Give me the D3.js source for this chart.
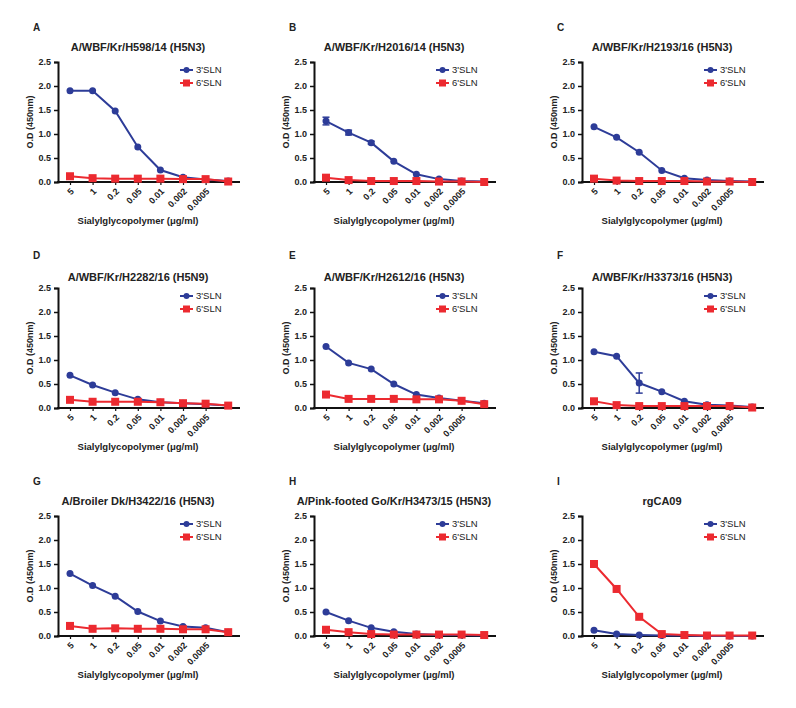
<!DOCTYPE html>
<html><head><meta charset="utf-8">
<script src="https://cdn.jsdelivr.net/npm/d3@7"></script>
<style>
body{margin:0;background:#fff;}
text{font-family:"Liberation Sans",Arial,sans-serif;fill:#222;}
</style></head>
<body><svg id="c" width="796" height="708"></svg>
<script>
const xLabels = ["5","1","0.2","0.05","0.01","0.002","0.0005",""];
const yTicks = [0,0.5,1.0,1.5,2.0,2.5];
const seriesNames = ["3'SLN","6'SLN"];
const letters = ["A","B","C","D","E","F","G","H","I"];
const titles = [
 "A/WBF/Kr/H598/14 (H5N3)","A/WBF/Kr/H2016/14 (H5N3)","A/WBF/Kr/H2193/16 (H5N3)",
 "A/WBF/Kr/H2282/16 (H5N9)","A/WBF/Kr/H2612/16 (H5N3)","A/WBF/Kr/H3373/16 (H5N3)",
 "A/Broiler Dk/H3422/16 (H5N3)","A/Pink-footed Go/Kr/H3473/15 (H5N3)","rgCA09"];
const sln3 = [
 [1.90,1.90,1.48,0.73,0.25,0.10,0.05,0.02],
 [1.27,1.03,0.82,0.43,0.16,0.06,0.02,0.01],
 [1.15,0.93,0.62,0.24,0.08,0.04,0.02,0.01],
 [0.68,0.48,0.32,0.18,0.12,0.10,0.08,0.05],
 [1.28,0.94,0.81,0.50,0.28,0.21,0.15,0.10],
 [1.17,1.08,0.52,0.34,0.14,0.07,0.05,0.02],
 [1.30,1.05,0.83,0.51,0.31,0.20,0.17,0.08],
 [0.50,0.32,0.17,0.09,0.04,0.02,0.02,0.01],
 [0.12,0.04,0.02,0.01,0.01,0.00,0.00,0.00]];
const sln6 = [
 [0.12,0.08,0.07,0.07,0.07,0.06,0.06,0.01],
 [0.09,0.04,0.02,0.02,0.02,0.01,0.01,0.00],
 [0.07,0.03,0.02,0.02,0.02,0.01,0.01,0.00],
 [0.17,0.13,0.13,0.13,0.12,0.10,0.09,0.05],
 [0.28,0.19,0.19,0.19,0.18,0.18,0.15,0.08],
 [0.14,0.06,0.04,0.04,0.04,0.04,0.04,0.01],
 [0.21,0.15,0.16,0.15,0.15,0.14,0.14,0.08],
 [0.13,0.08,0.04,0.03,0.03,0.03,0.03,0.02],
 [1.50,0.98,0.40,0.04,0.02,0.01,0.01,0.01]];
const err3 = [
 [0,0,0,0,0,0,0,0],
 [0.08,0.05,0.03,0,0,0,0,0],
 [0,0,0,0,0,0,0,0],
 [0,0,0,0,0,0,0,0],
 [0,0,0,0,0,0,0,0],
 [0,0,0.21,0,0,0,0,0],
 [0,0,0,0,0,0,0,0],
 [0,0,0,0,0,0,0,0],
 [0,0,0,0,0,0,0,0]];

const colX = [58,314,582];
const rowY = [62,288,516];
const titleOff = [15,11,15];
const W = 182, H = 120;
const blue = "#2d3c98", red = "#ec2a30";
const svg = d3.select("#c");
const x = d3.scalePoint().domain(d3.range(xLabels.length)).range([12, 12+7*22.6]);
const y = d3.scaleLinear().domain([0,2.5]).range([H,0]);

for (let p=0;p<9;p++){
  const r = Math.floor(p/3), c = p%3;
  const g = svg.append("g").attr("transform",`translate(${colX[c]},${rowY[r]})`);
  // letter and title
  g.append("text").attr("x",-25).attr("y",-31-(r==1?-2:0)).attr("font-size",10).attr("font-weight","bold").text(letters[p]);
  g.append("text").attr("x",80).attr("y",-titleOff[r]).attr("text-anchor","middle").attr("dy","0.35em")
   .attr("font-size",11).attr("font-weight","bold").text(titles[p]);
  // y axis
  const ya = g.append("g").call(d3.axisLeft(y).tickValues(yTicks).tickFormat(d3.format(".1f")).tickSize(4));
  ya.select(".domain").attr("stroke","#111").attr("stroke-width",2);
  ya.selectAll(".tick line").attr("stroke","#111").attr("stroke-width",1.5);
  ya.selectAll(".tick text").attr("font-size",9).attr("font-weight","bold").attr("font-family","Liberation Sans, Arial, sans-serif").attr("fill","#222");
  // x axis
  const xa = g.append("g").attr("transform",`translate(0,${H})`)
    .call(d3.axisBottom(x).tickValues(d3.range(7)).tickFormat(i=>xLabels[i]).tickSize(3));
  xa.select(".domain").remove();
  xa.append("line").attr("x1",-1).attr("x2",W).attr("stroke","#111").attr("stroke-width",2);
  xa.selectAll(".tick line").attr("stroke","#111").attr("stroke-width",1.2);
  xa.selectAll(".tick text").attr("font-size",9).attr("font-weight","bold").attr("fill","#222")
    .attr("font-family","Liberation Sans, Arial, sans-serif")
    .attr("text-anchor","end").attr("y",0).attr("dy","0")
    .attr("transform","translate(4,10) rotate(-45)");
  // axis titles
  g.append("text").attr("transform",`translate(-25,${H/2}) rotate(-90)`).attr("text-anchor","middle")
   .attr("font-size",9).attr("font-weight","bold").text("O.D (450nm)");
  g.append("text").attr("x",80).attr("y",H+42).attr("text-anchor","middle")
   .attr("font-size",9.5).attr("font-weight","bold").text("Sialylglycopolymer (\u03bcg/ml)");
  // series
  const line = d3.line().x((d,i)=>x(i)).y(d=>y(d));
  // blue
  const e = err3[p];
  g.append("g").selectAll("g").data(sln3[p]).join("g").each(function(d,i){
    if(e[i]>0){
      const s = d3.select(this);
      s.append("line").attr("x1",x(i)).attr("x2",x(i)).attr("y1",y(d-e[i])).attr("y2",y(d+e[i])).attr("stroke",blue).attr("stroke-width",1.5);
      [d-e[i],d+e[i]].forEach(v=>s.append("line").attr("x1",x(i)-3.5).attr("x2",x(i)+3.5).attr("y1",y(v)).attr("y2",y(v)).attr("stroke",blue).attr("stroke-width",1.5));
    }
  });
  g.append("path").attr("d",line(sln3[p])).attr("fill","none").attr("stroke",blue).attr("stroke-width",2);
  g.append("g").selectAll("circle").data(sln3[p]).join("circle")
   .attr("cx",(d,i)=>x(i)).attr("cy",d=>y(d)).attr("r",3.5).attr("fill",blue);
  // red
  g.append("path").attr("d",line(sln6[p])).attr("fill","none").attr("stroke",red).attr("stroke-width",2);
  g.append("g").selectAll("rect").data(sln6[p]).join("rect")
   .attr("x",(d,i)=>x(i)-4).attr("y",d=>y(d)-4).attr("width",8).attr("height",8).attr("fill",red);
  // legend
  const leg = [[blue,"circle"],[red,"rect"]];
  leg.forEach((l,k)=>{
    const ly = 8 + k*13;
    g.append("line").attr("x1",122).attr("x2",135).attr("y1",ly).attr("y2",ly).attr("stroke",l[0]).attr("stroke-width",2);
    if(l[1]=="circle") g.append("circle").attr("cx",128.5).attr("cy",ly).attr("r",3).attr("fill",l[0]);
    else g.append("rect").attr("x",125).attr("y",ly-3.5).attr("width",7).attr("height",7).attr("fill",l[0]);
    g.append("text").attr("x",138).attr("y",ly).attr("dy","0.35em").attr("font-size",9.5).text(seriesNames[k]);
  });
}
</script></body></html>
